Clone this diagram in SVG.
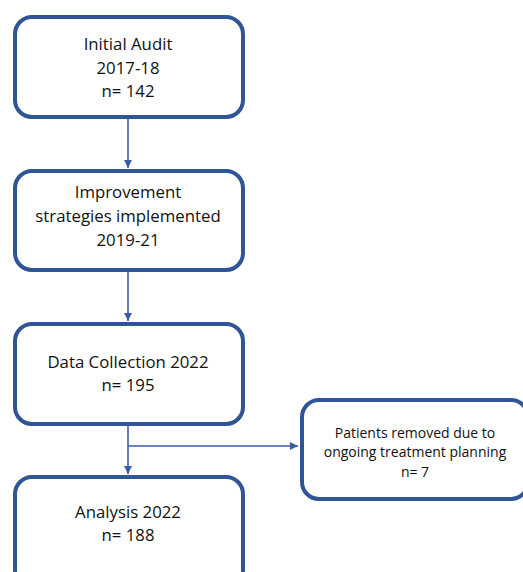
<svg xmlns="http://www.w3.org/2000/svg" width="523" height="572" viewBox="0 0 523 572">
<style>
.box{fill:#fff;stroke:#2F5597;stroke-width:4}
.t{font-family:"Open Sans","Liberation Sans",sans-serif;font-size:16.8px;fill:#111;text-anchor:middle}
.s{font-family:"Open Sans","Liberation Sans",sans-serif;font-size:14px;fill:#111;text-anchor:middle}
.c{fill:none;stroke:#3A5DA8;stroke-width:1.6}
</style>
<defs>
<marker id="ah" markerWidth="8" markerHeight="8" refX="8" refY="4" orient="auto" markerUnits="userSpaceOnUse">
<path d="M0,0 L8,4 L0,8 Z" fill="#3A5DA8"/>
</marker>
</defs>
<rect width="523" height="572" fill="#fff"/>
<g id="connectors">
<line class="c" x1="128" y1="119" x2="128" y2="168" marker-end="url(#ah)"/>
<line class="c" x1="128" y1="272" x2="128" y2="321" marker-end="url(#ah)"/>
<line class="c" x1="128" y1="426" x2="128" y2="474" marker-end="url(#ah)"/>
<line class="c" x1="128" y1="446" x2="298" y2="446" marker-end="url(#ah)"/>
</g>
<g id="n1">
<rect class="box" x="15" y="17" width="228" height="100" rx="17"/>
<text class="t" x="128" y="50">Initial Audit</text>
<text class="t" x="128" y="74">2017-18</text>
<text class="t" x="128" y="97">n= 142</text>
</g>
<g id="n2">
<rect class="box" x="15" y="171" width="228" height="99" rx="17"/>
<text class="t" x="128" y="198">Improvement</text>
<text class="t" x="128" y="222">strategies implemented</text>
<text class="t" x="128" y="246">2019-21</text>
</g>
<g id="n3">
<rect class="box" x="15" y="324" width="228" height="100" rx="17"/>
<text class="t" x="128" y="368">Data Collection 2022</text>
<text class="t" x="128" y="391">n= 195</text>
</g>
<g id="n4">
<rect class="box" x="15" y="477" width="228" height="110" rx="17"/>
<text class="t" x="128" y="518">Analysis 2022</text>
<text class="t" x="128" y="541">n= 188</text>
</g>
<g id="n5">
<rect class="box" x="302" y="400" width="226" height="99" rx="17"/>
<text class="s" x="415" y="438">Patients removed due to</text>
<text class="s" x="415" y="457">ongoing treatment planning</text>
<text class="s" x="415" y="477">n= 7</text>
</g>
</svg>
